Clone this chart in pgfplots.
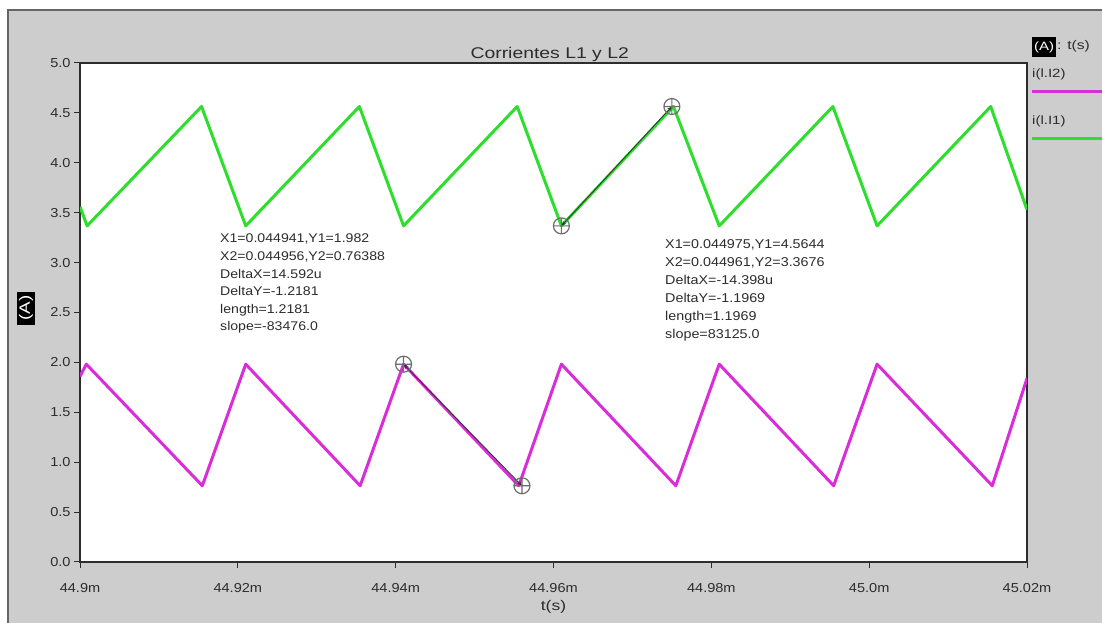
\documentclass[border=0pt]{standalone}
\usepackage{pgfplots}
\pgfplotsset{compat=1.18}
\usepackage{fontspec}
\setmainfont{Liberation Sans}[FakeStretch=1.12]
\newfontfamily\widefont{Liberation Sans}[FakeStretch=1.25]
\usetikzlibrary{arrows.meta}
\definecolor{bggray}{RGB}{205,205,205}
\definecolor{lgreen}{RGB}{45,222,45}
\definecolor{lmag}{RGB}{218,45,218}
\definecolor{txt}{RGB}{45,45,45}
\definecolor{curs}{RGB}{110,110,110}

\begin{document}
\begin{tikzpicture}[x=1pt,y=1pt]
\useasboundingbox (0,0) rectangle (1102,623);
\fill[white] (0,0) rectangle (1102,623);
\fill[bggray] (8,0) rectangle (1102,613);
\draw[gray!80!black,line width=1.2pt] (8,0) -- (8,613) -- (1102,613);
\begin{axis}[
  at={(80pt,61pt)}, anchor=south west,
  scale only axis, width=947pt, height=499pt,
  xmin=44.9, xmax=45.02, ymin=0, ymax=5,
  xtick={44.9,44.92,44.94,44.96,44.98,45.0,45.02},
  xticklabels={44.9m,44.92m,44.94m,44.96m,44.98m,45.0m,45.02m},
  ytick={0,0.5,1,1.5,2,2.5,3,3.5,4,4.5,5},
  yticklabel style={/pgf/number format/.cd,fixed,fixed zerofill,precision=1},
  xticklabel style={yshift=-12pt},
  /pgf/number format/assume math mode=true,
  tick label style={font=\fontsize{13}{15}\selectfont, text=txt},
  axis line style={txt, line width=1.1pt},
  tick style={txt, line width=1pt},
  tick align=outside, major tick length=6pt, tick pos=left,
  axis background/.style={fill=white},
  clip=true,
  title={Corrientes L1 y L2},
  title style={at={(axis description cs:0.496,1.006)}, anchor=center, yshift=0pt, font=\widefont\fontsize{15.5}{17}\selectfont, text=txt},
  xlabel={t(s)},
  xlabel style={at={(axis description cs:0.5,-0.089)}, anchor=center, font=\widefont\fontsize{14}{16}\selectfont, text=txt},
  ylabel={(A)},
  ylabel style={at={(axis description cs:-0.057,0.509)}, anchor=center, rotate=0, fill=black, text=white, inner xsep=4pt, inner ysep=2pt, font=\widefont\fontsize{15}{17}\selectfont},
]
% i(L.I1) green
\addplot[lgreen, line width=3pt, line join=round] coordinates {
(44.9000,3.56) (44.9009,3.368) (44.9154,4.564) (44.9210,3.368) (44.9354,4.564)
(44.9410,3.368) (44.9554,4.564) (44.9610,3.368) (44.9752,4.564) (44.9810,3.368)
(44.9954,4.564) (45.0010,3.368) (45.0154,4.564) (45.0200,3.53)
};
% i(L.I2) magenta
\addplot[lmag, line width=3pt, line join=round] coordinates {
(44.9000,1.86) (44.9008,1.982) (44.9155,0.764) (44.9210,1.982) (44.9355,0.764)
(44.9410,1.982) (44.9556,0.764) (44.9610,1.982) (44.9755,0.764) (44.9810,1.982)
(44.9955,0.764) (45.0010,1.982) (45.0156,0.764) (45.0200,1.84)
};
% cursor lines
\addplot[black!80, line width=0.9pt, {Stealth[length=5pt]}-{Stealth[length=5pt]}] coordinates {(44.941,1.982) (44.956,0.764)};
\addplot[black!80, line width=0.9pt, {Stealth[length=5pt]}-{Stealth[length=5pt]}] coordinates {(44.961,3.368) (44.975,4.564)};
% cursor markers
\addplot[only marks, mark=oplus, mark size=8pt, curs, mark options={line width=1.2pt}] coordinates {
(44.941,1.982) (44.956,0.764) (44.961,3.368) (44.975,4.564)};
\end{axis}
% annotations
\node[anchor=north west, align=left, inner sep=0pt, text=txt, font=\fontsize{12.6}{17.6}\selectfont] at (220,623-234)
{X1=0.044941,Y1=1.982\\X2=0.044956,Y2=0.76388\\DeltaX=14.592u\\DeltaY=-1.2181\\length=1.2181\\slope=-83476.0};
\node[anchor=north west, align=left, inner sep=0pt, text=txt, font=\fontsize{12.8}{18}\selectfont] at (665,623-239)
{X1=0.044975,Y1=4.5644\\X2=0.044961,Y2=3.3676\\DeltaX=-14.398u\\DeltaY=-1.1969\\length=1.1969\\slope=83125.0};
% legend
\node[fill=black, text=white, inner xsep=2pt, inner ysep=4pt, font=\widefont\fontsize{12}{14}\selectfont, anchor=west] at (1032,623-47) {(A)};
\node[text=txt, inner sep=0pt, font=\widefont\fontsize{12.5}{14}\selectfont, anchor=west] at (1057,623-46) {: t(s)};
\node[text=txt, inner sep=0pt, font=\widefont\fontsize{12}{14}\selectfont, anchor=west] at (1032,623-74) {i(l.I2)};
\draw[lmag, line width=3pt] (1032,623-92) -- (1102,623-92);
\node[text=txt, inner sep=0pt, font=\widefont\fontsize{12}{14}\selectfont, anchor=west] at (1032,623-121) {i(l.I1)};
\draw[lgreen, line width=3pt] (1032,623-139) -- (1102,623-139);
\end{tikzpicture}
\end{document}
